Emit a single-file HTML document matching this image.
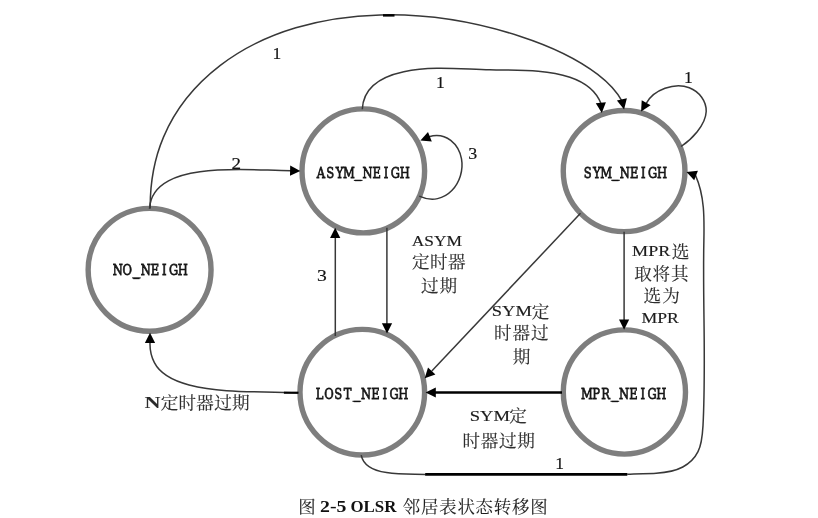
<!DOCTYPE html>
<html lang="zh-CN">
<head>
<meta charset="utf-8">
<title>图 2-5 OLSR 邻居表状态转移图</title>
<style>
  html, body { margin: 0; padding: 0; background: #ffffff; }
  body { width: 818px; height: 518px; overflow: hidden; position: relative; }
  svg { position: absolute; left: 0; top: 0; display: block; will-change: transform; }
  .node { fill: #ffffff; stroke: #7e7e7e; stroke-width: 5.4; }
  .edge { fill: none; stroke: #383838; stroke-width: 1.5; stroke-linecap: butt; stroke-linejoin: round; }
  .thick { fill: none; stroke: #000000; stroke-width: 2.7; }
  .head { fill: #000000; stroke: none; }
  text { white-space: pre; }
  .state { font-family: "DejaVu Serif", "Liberation Serif", serif; font-size: 15.2px; fill: #161616; stroke: #161616; stroke-width: 0.75px; text-anchor: middle; }
  .us { fill: none; stroke: #111111; stroke-width: 1.0; }
  .num { font-family: "Liberation Serif", serif; font-size: 17.5px; fill: #151515; stroke: #151515; stroke-width: 0.2px; }
  .lat { font-family: "Liberation Serif", serif; font-size: 15.3px; fill: #1c1c1c; stroke: #1c1c1c; stroke-width: 0.15px; }
  .latb { font-family: "Liberation Serif", serif; font-size: 16px; font-weight: bold; fill: #2a2a2a; }
  .cjk { font-family: "Liberation Serif", "Noto Serif CJK SC", serif; font-size: 17.6px; fill: #2e2e2e; stroke: #2e2e2e; stroke-width: 0.15px; }
  .capc { font-family: "Liberation Serif", "Noto Serif CJK SC", serif; font-size: 17.4px; fill: #1e1e1e; stroke: #1e1e1e; stroke-width: 0.1px; }
  .capb { font-family: "Liberation Serif", serif; font-size: 16.1px; font-weight: bold; fill: #111111; }
</style>
</head>
<body>
<svg width="818" height="518" viewBox="0 0 818 518">
  <g id="nodes">
    <ellipse class="node" cx="149.6" cy="269.8" rx="61.45" ry="61.4"/>
    <ellipse class="node" cx="363.3" cy="170.9" rx="61.3" ry="62.0"/>
    <ellipse class="node" cx="624.1" cy="171.05" rx="60.85" ry="60.6"/>
    <ellipse class="node" cx="362.3" cy="392.2" rx="62.3" ry="62.8"/>
    <ellipse class="node" cx="624.4" cy="392.0" rx="61.1" ry="62.1"/>
  </g>
  <g id="edges">
    <path class="edge" d="M150.2,208.5 C150.0,184.2 154.0,159.5 163.5,137.1 C175.4,108.8 195.9,84.1 220.3,65.4 C265.3,30.8 323.3,16.4 380.2,14.9 C427.7,13.7 474.4,21.4 519.8,36.2 C547.6,45.2 574.8,56.9 597.7,74.4 C607.5,81.9 616.5,90.5 622.5,101.9"/>
    <path class="head" d="M624.1,109.4 L616.9,100.5 L626.9,98.3 Z"/>
    <path class="thick" style="stroke-width:2.4" d="M383,15.4 L394.5,15.4"/>
    <path class="edge" d="M149.5,208.7 C150.2,194.9 158.3,186.3 168.5,180.8 C177.9,175.7 189.0,173.2 200.0,171.7 C230.7,167.4 260.1,170.3 291.1,170.8"/>
    <path class="head" d="M300.3,170.9 L290.0,175.8 L290.2,165.6 Z"/>
    <path class="edge" d="M362.3,109.3 C363.3,85.1 383.7,76.0 403.8,71.7 C432.5,65.5 460.7,69.1 489.8,69.8 C517.0,70.5 545.0,68.9 569.9,77.3 C583.2,81.8 595.6,89.1 601.2,104.1"/>
    <path class="head" d="M601.8,112.9 L595.8,103.2 L605.9,102.3 Z"/>
    <path class="edge" d="M419.2,196.1 C445.7,208.3 465.6,181.5 461.5,158.9 C458.8,144.4 446.3,131.6 429.0,136.7"/>
    <path class="head" d="M420.4,140.4 L428.0,131.9 L431.8,141.4 Z"/>
    <path class="edge" d="M681.0,146.5 C691.1,139.8 705.7,125.3 706.2,111.5 C706.6,101.3 699.3,91.5 689.3,87.7 C674.5,81.9 653.6,89.8 646.4,103.1"/>
    <path class="head" d="M641.1,111.6 L641.7,100.2 L650.6,105.3 Z"/>
    <path class="edge" d="M335.3,336 L335.3,236"/>
    <path class="head" d="M335.2,227.7 L340.3,237.9 L330.1,237.9 Z"/>
    <path class="edge" d="M386.9,227.7 L386.9,325"/>
    <path class="head" d="M387.0,333.4 L381.9,323.2 L392.1,323.2 Z"/>
    <path class="edge" d="M580.5,213.3 L431.8,371.0"/>
    <path class="head" d="M424.7,378.3 L428.0,367.4 L435.4,374.4 Z"/>
    <path class="edge" d="M624.1,231.8 L624.1,321"/>
    <path class="head" d="M624.1,329.8 L619.0,319.6 L629.2,319.6 Z"/>
    <path class="thick" d="M562,392.5 L434,392.5"/>
    <path class="head" d="M425.6,392.5 L435.8,387.4 L435.8,397.6 Z"/>
    <path class="edge" d="M298.0,392.9 C261.7,390.7 224.9,394.1 189.1,384.9 C175.0,381.2 161.0,375.6 154.4,362.6 C151.1,356.1 149.6,347.7 150.1,340.9"/>
    <path class="thick" style="stroke-width:2.1" d="M283.9,392.7 L298.5,392.7"/>
    <path class="head" d="M150.0,332.7 L155.1,342.9 L144.9,342.9 Z"/>
    <path class="edge" d="M361.2,455.1 C363.6,467.3 375.2,470.9 386.5,472.6 C400.0,474.7 413.1,474.0 425.9,474.4"/>
    <path class="thick" style="stroke-width:2.8" d="M425.2,474.4 L627.3,474.4"/>
    <path class="edge" d="M627.1,474.3 C636.5,473.5 646.2,473.8 656.2,473.2 C665.4,472.6 674.9,471.2 682.8,467.0 C689.4,463.5 694.8,458.1 698.0,451.7 C701.9,444.0 702.5,434.8 703.0,425.6 C706.2,364.3 702.7,305.7 703.8,245.1 C704.2,221.3 705.3,197.2 695.5,175.4"/>
    <path class="head" d="M686.5,171.9 L697.9,170.8 L694.2,180.3 Z"/>
  </g>
  <g id="names">
    <text class="state" transform="translate(150.35,275.4) scale(0.76,1)" x="-42.83 -30.59 -18.36 -6.12 6.12 18.36 30.59 42.83" y="0 0 -0.8 0 0 0 0 0">NO_NEIGH</text>
    <path class="us" d="M132.05,277.90 h8.70"/>
    <text class="state" transform="translate(362.85,177.9) scale(0.76,1)" x="-55.07 -42.83 -30.59 -18.36 -6.12 6.12 18.36 30.59 42.83 55.07" y="0 0 0 0 -0.8 0 0 0 0 0">ASYM_NEIGH</text>
    <path class="us" d="M353.85,180.40 h8.70"/>
    <text class="state" transform="translate(624.8,177.8) scale(0.76,1)" x="-48.95 -36.71 -24.47 -12.24 0.00 12.24 24.47 36.71 48.95" y="0 0 0 -0.8 0 0 0 0 0">SYM_NEIGH</text>
    <path class="us" d="M611.15,180.30 h8.70"/>
    <text class="state" transform="translate(361.45,398.8) scale(0.76,1)" x="-55.07 -42.83 -30.59 -18.36 -6.12 6.12 18.36 30.59 42.83 55.07" y="0 0 0 0 -0.8 0 0 0 0 0">LOST_NEIGH</text>
    <path class="us" d="M352.45,401.30 h8.70"/>
    <text class="state" transform="translate(624.15,398.8) scale(0.76,1)" x="-48.95 -36.71 -24.47 -12.24 0.00 12.24 24.47 36.71 48.95" y="0 0 0 -0.8 0 0 0 0 0">MPR_NEIGH</text>
    <path class="us" d="M610.50,401.30 h8.70"/>
  </g>
  <g id="numbers">
    <text><tspan class="num" x="272.38" y="58.65">1</tspan></text>
    <text><tspan class="num" x="231.48" y="168.75" textLength="9.53" lengthAdjust="spacingAndGlyphs">2</tspan></text>
    <text><tspan class="num" x="436.12" y="88.45">1</tspan></text>
    <text><tspan class="num" x="468.33" y="159.45" textLength="8.98" lengthAdjust="spacingAndGlyphs">3</tspan></text>
    <text><tspan class="num" x="683.88" y="83.25">1</tspan></text>
    <text><tspan class="num" x="317.06" y="280.85" textLength="9.80" lengthAdjust="spacingAndGlyphs">3</tspan></text>
    <text><tspan class="num" x="555.33" y="468.65">1</tspan></text>
  </g>
  <g id="labels">
    <text><tspan class="lat" x="411.80" y="246.25" textLength="50.23" lengthAdjust="spacingAndGlyphs">ASYM</tspan><tspan class="cjk" x="412.00" y="267.98" style="letter-spacing:0.40px">定时器</tspan><tspan class="cjk" x="421.00" y="291.58" style="letter-spacing:0.80px">过期</tspan></text>
    <text><tspan class="lat" x="491.79" y="315.75" textLength="40.10" lengthAdjust="spacingAndGlyphs">SYM</tspan><tspan class="cjk" x="531.65" y="317.52">定</tspan><tspan class="cjk" x="493.95" y="339.27" style="letter-spacing:0.90px">时器过</tspan><tspan class="cjk" x="512.65" y="362.95">期</tspan></text>
    <text><tspan class="lat" x="632.10" y="255.90" textLength="38.17" lengthAdjust="spacingAndGlyphs">MPR</tspan><tspan class="cjk" x="671.75" y="258.05">选</tspan><tspan class="cjk" x="634.30" y="279.93" style="letter-spacing:0.73px">取将其</tspan><tspan class="cjk" x="643.50" y="301.93" style="letter-spacing:1.05px">选为</tspan><tspan class="lat" x="641.41" y="323.00" textLength="37.37" lengthAdjust="spacingAndGlyphs">MPR</tspan></text>
    <text><tspan class="lat" x="469.78" y="421.25" textLength="40.31" lengthAdjust="spacingAndGlyphs">SYM</tspan><tspan class="cjk" x="509.15" y="422.32">定</tspan><tspan class="cjk" x="462.55" y="447.07" style="letter-spacing:0.63px">时器过期</tspan></text>
    <text><tspan class="latb" x="144.55" y="407.90" textLength="16.08" lengthAdjust="spacingAndGlyphs">N</tspan><tspan class="cjk" x="160.80" y="408.82" style="letter-spacing:0.19px">定时器过期</tspan></text>
  </g>
  <g id="caption">
    <text><tspan class="capc" x="298.25" y="513.02">图</tspan> <tspan class="capb" x="320.08" y="512.05" textLength="26.39" lengthAdjust="spacingAndGlyphs">2-5</tspan> <tspan class="capb" x="350.41" y="512.05" textLength="45.91" lengthAdjust="spacingAndGlyphs">OLSR</tspan> <tspan class="capc" x="402.70" y="512.73" style="letter-spacing:0.84px">邻居表状态转移图</tspan></text>
  </g>
</svg>
</body>
</html>
